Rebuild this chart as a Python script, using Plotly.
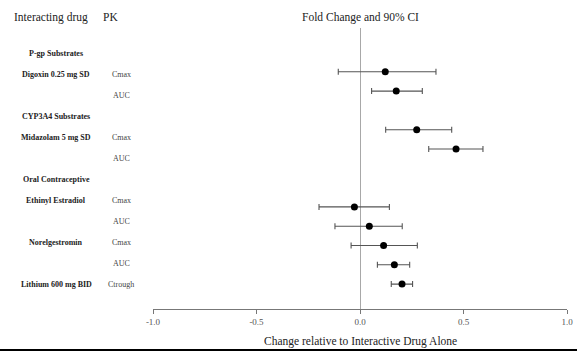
import plotly.graph_objects as go

# ---- data ----
row_labels = ["P-gp Substrates", "Digoxin 0.25 mg SD", "", "CYP3A4 Substrates",
              "Midazolam 5 mg SD", "", "Oral Contraceptive", "Ethinyl Estradiol", "",
              "Norelgestromin", "", "Lithium 600 mg BID"]
pk_labels = ["", "Cmax", "AUC", "", "Cmax", "AUC", "", "Cmax", "AUC", "Cmax", "AUC", "Ctrough"]

point_rows = [1, 2, 4, 5, 8, 9, 10, 11, 12]
estimate = [0.122, 0.175, 0.274, 0.464, -0.027, 0.045, 0.114, 0.166, 0.203]
ci_low = [-0.105, 0.056, 0.124, 0.332, -0.198, -0.121, -0.043, 0.084, 0.151]
ci_high = [0.367, 0.301, 0.443, 0.594, 0.142, 0.204, 0.277, 0.240, 0.254]

tick_vals = [-1.0, -0.5, 0.0, 0.5, 1.0]
tick_text = ["-1.0", "-0.5", "0.0", "0.5", "1.0"]

W, H = 577, 351
ML, MR, MT, MB = 153, 10, 28, 42
ROW0, ROWSTEP = 52.5, 19.3
plot_h = H - MT - MB
FONT = "Liberation Serif"

fig = go.Figure()
fig.add_trace(go.Scatter(
    x=estimate, y=point_rows, mode="markers",
    marker=dict(color="black", size=7),
    error_x=dict(type="data", symmetric=False,
                 array=[h - e for h, e in zip(ci_high, estimate)],
                 arrayminus=[e - l for e, l in zip(estimate, ci_low)],
                 color="#555555", thickness=1.1, width=3),
    showlegend=False, hoverinfo="skip", cliponaxis=False))

ymin = (MT - ROW0) / ROWSTEP
ymax = (H - MB - ROW0) / ROWSTEP

ann = []
def px_to_yd(p):
    return (p - ROW0) / ROWSTEP
def px_to_xp(p):
    return (p - ML) / (W - ML - MR)
def py_to_yp(p):
    return (H - MB - p) / plot_h

for k, (lab, pk) in enumerate(zip(row_labels, pk_labels)):
    py = 53 + 21 * k
    if lab:
        ann.append(dict(text="<b>" + lab + "</b>", x=px_to_xp(56), xref="paper",
                        y=px_to_yd(py), yref="y", showarrow=False, xanchor="center",
                        yanchor="middle", font=dict(family=FONT, size=8, color="#222222")))
    if pk:
        ann.append(dict(text=pk, x=px_to_xp(121), xref="paper",
                        y=px_to_yd(py), yref="y", showarrow=False, xanchor="center",
                        yanchor="middle", font=dict(family=FONT, size=8, color="#444444")))

for txt, cx in [("Interacting drug", 51), ("PK", 110), ("Fold Change and 90% CI", 360)]:
    ann.append(dict(text=txt, x=px_to_xp(cx), xref="paper", y=py_to_yp(17), yref="paper",
                    showarrow=False, xanchor="center", yanchor="middle",
                    font=dict(family=FONT, size=11.5, color="#222222")))

ann.append(dict(text="Change relative to Interactive Drug Alone", x=px_to_xp(360), xref="paper",
                y=py_to_yp(341), yref="paper", showarrow=False, xanchor="center",
                yanchor="middle", font=dict(family=FONT, size=11.5, color="#222222")))

fig.update_layout(
    width=W, height=H, margin=dict(l=ML, r=MR, t=MT, b=MB, autoexpand=False),
    paper_bgcolor="white", plot_bgcolor="white",
    annotations=ann,
    xaxis=dict(range=[-1, 1], tickvals=tick_vals, ticktext=tick_text, automargin=False,
               showgrid=False, zeroline=True, zerolinecolor="#a8a8a8", zerolinewidth=1.3,
               showline=True, linecolor="#777777", linewidth=1.3,
               ticks="outside", ticklen=4, tickcolor="#777777", tickwidth=1,
               tickfont=dict(family=FONT, size=9, color="#555555")),
    yaxis=dict(range=[ymax, ymin], visible=False, showgrid=False, zeroline=False,
               automargin=False),
    shapes=[dict(type="line", xref="paper", yref="paper",
                 x0=px_to_xp(0), x1=px_to_xp(W), y0=py_to_yp(350), y1=py_to_yp(350),
                 line=dict(color="black", width=2))],
)

fig.write_html("out.html")
